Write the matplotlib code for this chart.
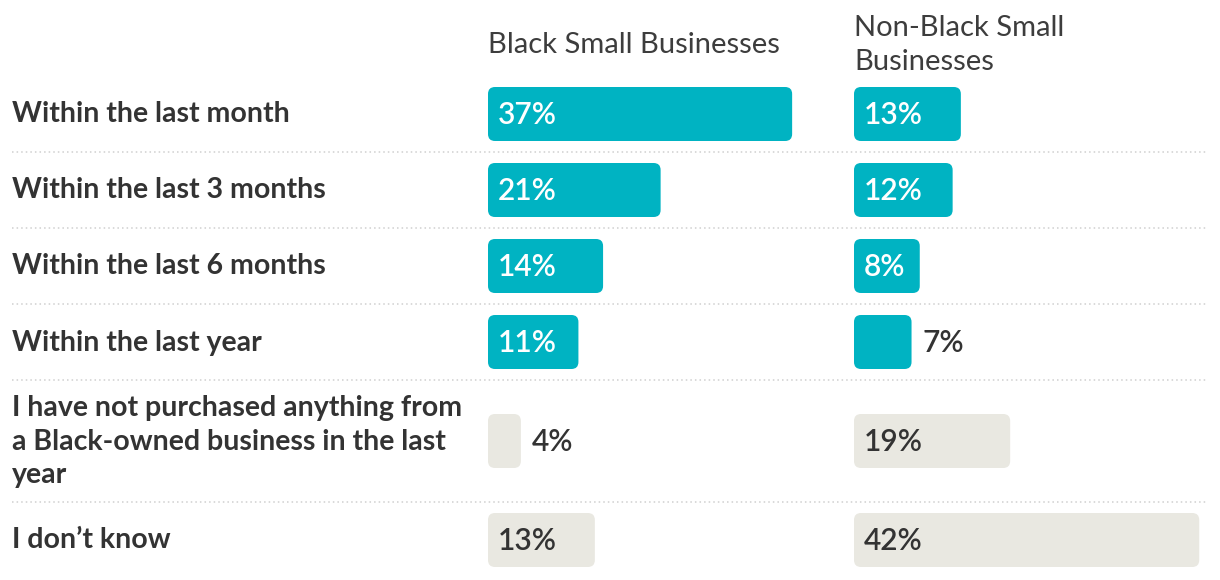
import matplotlib
matplotlib.use("Agg")
import matplotlib.pyplot as plt
from matplotlib.patches import FancyBboxPatch

categories = [
    "Within the last month",
    "Within the last 3 months",
    "Within the last 6 months",
    "Within the last year",
    "I have not purchased anything from\na Black-owned business in the last\nyear",
    "I don\u2019t know",
]
black_vals = [37, 21, 14, 11, 4, 13]
nonblack_vals = [13, 12, 8, 7, 19, 42]
headers = ["Black Small Businesses", "Non-Black Small\nBusinesses"]
highlight = [True, True, True, True, False, False]

TEAL = "#00B3C2"
GREY = "#E9E8E1"
TEXT = "#333333"
FONT = ["Lato", "DejaVu Sans"]

W, H = 1220, 580
fig = plt.figure(figsize=(W / 100, H / 100), dpi=100)

# layout (pixels)
top = 76
row_h = [76, 76, 76, 76, 122, 76]
bounds = [top]
for h in row_h:
    bounds.append(bounds[-1] + h)
centers = [(bounds[i] + bounds[i + 1]) / 2 for i in range(len(row_h))]
bar_h = 54
px_per_pct = 8.22
col_left = [488, 854]
xmax_pct = 45

# master axes in pixel units
base = fig.add_axes([0, 0, 1, 1])
base.set_xlim(0, W)
base.set_ylim(H, 0)
base.axis("off")

for i, cat in enumerate(categories):
    base.text(12, centers[i] + 0.5, cat, fontsize=20.5, fontweight="bold", color=TEXT,
              family=FONT, va="center", ha="left", linespacing=1.38)
for b in bounds[1:-1]:
    base.plot([12, 1208], [b, b], color="#cfcfcf", lw=1.1, ls=(0, (1, 2)))

for j, hdr in enumerate(headers):
    base.text(col_left[j], 45, hdr, fontsize=21, fontweight="normal", color="#3d3d3d",
              family=FONT, va="center", ha="left", linespacing=1.36)

radius_px = 7
for j, vals in enumerate([black_vals, nonblack_vals]):
    ax = fig.add_axes([col_left[j] / W, 0, xmax_pct * px_per_pct / W, 1])
    ax.set_xlim(0, xmax_pct)
    ax.set_ylim(H, 0)
    ax.axis("off")
    colors = [TEAL if hl else GREY for hl in highlight]
    bars = ax.barh(centers, vals, height=bar_h, color=colors)
    for bar, v, hl in zip(bars, vals, highlight):
        x0, y0 = bar.get_x(), bar.get_y()
        w, h = bar.get_width(), bar.get_height()
        bar.set_visible(False)
        r = radius_px / px_per_pct
        patch = FancyBboxPatch((x0, y0), w, h,
                               boxstyle=f"round,pad=0,rounding_size={r}",
                               mutation_aspect=px_per_pct,
                               fc=bar.get_facecolor(), ec="none")
        ax.add_patch(patch)
        yc = y0 + h / 2
        inside = v >= 8
        if inside:
            ax.text(x0 + 10 / px_per_pct, yc + 1, f"{v}%", fontsize=21.5, fontweight="semibold",
                    color="white" if hl else TEXT, family=FONT, va="center", ha="left")
        else:
            ax.text(x0 + w + 11 / px_per_pct, yc + 1, f"{v}%", fontsize=21.5, fontweight="semibold",
                    color=TEXT, family=FONT, va="center", ha="left")

fig.savefig("out.png", dpi=100)
